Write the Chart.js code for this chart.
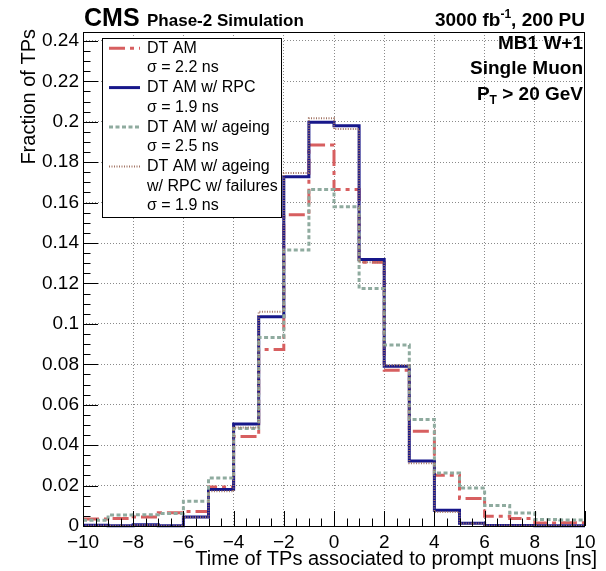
<!DOCTYPE html>
<html>
<head>
<meta charset="utf-8">
<script src="https://cdn.jsdelivr.net/npm/chart.js@4.4.1/dist/chart.umd.min.js"></script>
<style>
  html, body { margin: 0; padding: 0; background: #ffffff; }
  #wrap { width: 606px; height: 571px; position: relative; }
</style>
</head>
<body>
<div id="wrap"><canvas id="c" width="606" height="571"></canvas></div>
<script>
// ---------------- DATA ----------------
const binLowEdges = [-10, -9, -8, -7, -6, -5, -4, -3, -2, -1, 0, 1, 2, 3, 4, 5, 6, 7, 8, 9];
const xUpperEdge = 10;

const dtAM = [0.0035, 0.0037, 0.0045, 0.0065, 0.0072, 0.0193, 0.0443, 0.0873, 0.154, 0.1885,
              0.1665, 0.1305, 0.077, 0.0469, 0.0251, 0.0136, 0.0048, 0.0037, 0.0015, 0.0016];
const dtAMwRPC = [0.0004, 0.0001, 0.0006, 0.0001, 0.0045, 0.018, 0.0505, 0.1035, 0.1728, 0.1997,
                  0.198, 0.1318, 0.079, 0.0322, 0.0078, 0.0014, 0.0003, 0.0002, 0.0001, 0.0001];
const dtAMageing = [0.0028, 0.0055, 0.0056, 0.0062, 0.0123, 0.0237, 0.0482, 0.0933, 0.1365, 0.1665,
                    0.158, 0.1175, 0.0895, 0.0527, 0.0262, 0.0188, 0.0101, 0.0064, 0.0032, 0.003];
const dtAMageingRPCfail = [0.0003, 0.0001, 0.0005, 0.0001, 0.0043, 0.0172, 0.0487, 0.106, 0.1747, 0.2017,
                           0.1964, 0.1305, 0.0795, 0.031, 0.0069, 0.0012, 0.0003, 0.0002, 0.0001, 0.0001];

const seriesLegendLines = [
  ["DT AM", "σ = 2.2 ns"],
  ["DT AM w/ RPC", "σ = 1.9 ns"],
  ["DT AM w/ ageing", "σ = 2.5 ns"],
  ["DT AM w/ ageing", "w/ RPC w/ failures", "σ = 1.9 ns"]
];

const xTickValues = [-10, -8, -6, -4, -2, 0, 2, 4, 6, 8, 10];
const xTickLabels = ["\u221210", "\u22128", "\u22126", "\u22124", "\u22122", "0", "2", "4", "6", "8", "10"];
const yTickValues = [0, 0.02, 0.04, 0.06, 0.08, 0.1, 0.12, 0.14, 0.16, 0.18, 0.2, 0.22, 0.24];
const yTickLabels = ["0", "0.02", "0.04", "0.06", "0.08", "0.1", "0.12", "0.14", "0.16", "0.18", "0.2", "0.22", "0.24"];

const xAxisTitle = "Time of TPs associated to prompt muons [ns]";
const yAxisTitle = "Fraction of TPs";

// ---------------- HELPERS ----------------
function histPoints(values) {
  const pts = binLowEdges.map((e, i) => ({ x: e, y: values[i] }));
  pts.push({ x: xUpperEdge, y: values[values.length - 1] });
  return pts;
}

const FONT = '"Liberation Sans", Arial, Helvetica, sans-serif';

const datasets = [
  { label: seriesLegendLines[0].join(' '), data: histPoints(dtAM), borderColor: '#d75f60',
    borderWidth: 3, borderDash: [16, 5, 4, 5], order: 3 },
  { label: seriesLegendLines[1].join(' '), data: histPoints(dtAMwRPC), borderColor: '#17178a',
    borderWidth: 3, borderDash: [], order: 2 },
  { label: seriesLegendLines[2].join(' '), data: histPoints(dtAMageing), borderColor: '#8fab9f',
    borderWidth: 3, borderDash: [4, 2.5], order: 1 },
  { label: seriesLegendLines[3].join(' '), data: histPoints(dtAMageingRPCfail), borderColor: '#a27464',
    borderWidth: 2, borderDash: [1, 1.5], order: 0 }
].map(d => Object.assign(d, { stepped: 'before', fill: false, pointRadius: 0, clip: 4, tension: 0 }));

const decorPlugin = {
  id: 'decor',
  afterDatasetsDraw(chart) {
    const ctx = chart.ctx;
    const { left, right, top, bottom } = chart.chartArea;
    const xs = chart.scales.x, ys = chart.scales.y;
    ctx.save();
    ctx.setLineDash([]);
    ctx.strokeStyle = '#000';
    ctx.lineWidth = 1;

    // ticks (inside frame, ROOT style)
    ctx.beginPath();
    for (let v = 0; v <= ys.max + 1e-9; v += 0.005) {
      const y = Math.round(ys.getPixelForValue(v)) + 0.5;
      const major = Math.abs(v / 0.02 - Math.round(v / 0.02)) < 1e-6;
      const len = major ? 15 : 7.5;
      ctx.moveTo(left, y); ctx.lineTo(left + len, y);
    }
    for (let v = xs.min; v <= xs.max + 1e-9; v += 0.5) {
      const x = Math.round(xs.getPixelForValue(v)) + 0.5;
      const major = Math.abs(v / 2 - Math.round(v / 2)) < 1e-6;
      const len = major ? 15 : 7.5;
      ctx.moveTo(x, bottom); ctx.lineTo(x, bottom - len);
    }
    ctx.stroke();

    // frame
    ctx.strokeRect(left + 0.5, top + 0.5, right - left - 1, bottom - top);

    // legend box
    const lx = 102, ly = 38, lw = 179, lh = 179;
    ctx.fillStyle = '#fff';
    ctx.fillRect(lx, ly, lw, lh);
    ctx.strokeRect(lx + 0.5, ly + 0.5, lw, lh);

    ctx.font = '16px ' + FONT;
    ctx.fillStyle = '#000';
    ctx.textAlign = 'left';
    ctx.textBaseline = 'alphabetic';
    let row = 0;
    const rowH = 19.7, base0 = 52.7;
    seriesLegendLines.forEach((lines, si) => {
      const ds = chart.data.datasets[si];
      const by = base0 + row * rowH;
      ctx.save();
      ctx.strokeStyle = ds.borderColor;
      ctx.lineWidth = ds.borderWidth;
      ctx.setLineDash(ds.borderDash || []);
      ctx.beginPath();
      ctx.moveTo(109, by - 4.5);
      ctx.lineTo(140, by - 4.5);
      ctx.stroke();
      ctx.restore();
      lines.forEach(t => {
        ctx.fillText(t, 147, base0 + row * rowH);
        row++;
      });
    });

    // header texts
    ctx.fillStyle = '#000';
    ctx.textAlign = 'left';
    ctx.font = 'bold 25px ' + FONT;
    ctx.fillText('CMS', 84, 25.5);
    ctx.font = 'bold 17px ' + FONT;
    ctx.fillText('Phase-2 Simulation', 147, 25.7);

    // right header: 3000 fb^-1, 200 PU
    const rightEdge = 585;
    const big = 'bold 19px ' + FONT, small = 'bold 12px ' + FONT;
    ctx.font = big; const w1 = ctx.measureText('3000 fb').width;
    ctx.font = small; const w2 = ctx.measureText('-1').width;
    ctx.font = big; const w3 = ctx.measureText(', 200 PU').width;
    let x0 = rightEdge - (w1 + w2 + w3);
    ctx.font = big; ctx.fillText('3000 fb', x0, 26);
    ctx.font = small; ctx.fillText('-1', x0 + w1, 18);
    ctx.font = big; ctx.fillText(', 200 PU', x0 + w1 + w2, 26);

    // inner texts
    const innerRight = 583;
    ctx.font = big;
    ctx.textAlign = 'right';
    ctx.fillText('MB1 W+1', innerRight, 48.5);
    ctx.fillText('Single Muon', innerRight, 74);
    ctx.textAlign = 'left';
    ctx.font = big; const p1 = ctx.measureText('P').width;
    ctx.font = small; const p2 = ctx.measureText('T').width;
    ctx.font = big; const p3 = ctx.measureText(' > 20 GeV').width;
    x0 = innerRight - (p1 + p2 + p3);
    ctx.font = big; ctx.fillText('P', x0, 99.5);
    ctx.font = small; ctx.fillText('T', x0 + p1, 104);
    ctx.font = big; ctx.fillText(' > 20 GeV', x0 + p1 + p2, 99.5);

    // axis titles
    ctx.font = '20px ' + FONT;
    ctx.textAlign = 'right';
    ctx.fillText(xAxisTitle, 597, 565);
    ctx.save();
    ctx.translate(35, 29);
    ctx.rotate(-Math.PI / 2);
    ctx.textAlign = 'right';
    ctx.fillText(yAxisTitle, 0, 0);
    ctx.restore();

    ctx.restore();
  }
};

new Chart(document.getElementById('c'), {
  type: 'line',
  data: { datasets },
  options: {
    responsive: false,
    animation: false,
    devicePixelRatio: 1,
    layout: { padding: { left: 0, top: 32, right: 21, bottom: 0 } },
    plugins: { legend: { display: false }, tooltip: { enabled: false } },
    elements: { point: { radius: 0 } },
    scales: {
      x: {
        type: 'linear', min: -10, max: 10,
        afterBuildTicks: s => { s.ticks = xTickValues.map(v => ({ value: v })); },
        afterFit: s => { s.height = 45; },
        ticks: {
          autoSkip: false, maxRotation: 0, padding: 5, color: '#000',
          font: { family: FONT, size: 19 },
          callback: (v, i) => xTickLabels[i]
        },
        grid: {
          drawTicks: false, tickLength: 0, lineWidth: 1,
          color: c => (c.tick && (c.tick.value === -10 || c.tick.value === 10)) ? 'rgba(0,0,0,0)' : '#8a8a8a'
        },
        border: { display: false, dash: [1, 2] }
      },
      y: {
        type: 'linear', min: 0, max: 0.2444,
        afterBuildTicks: s => { s.ticks = yTickValues.map(v => ({ value: v })); },
        afterFit: s => { s.width = 83; },
        ticks: {
          autoSkip: false, padding: 4, color: '#000',
          font: { family: FONT, size: 19 },
          callback: (v, i) => yTickLabels[i]
        },
        grid: {
          drawTicks: false, tickLength: 0, lineWidth: 1,
          color: c => (c.tick && c.tick.value === 0) ? 'rgba(0,0,0,0)' : '#8a8a8a'
        },
        border: { display: false, dash: [1, 2] }
      }
    }
  },
  plugins: [decorPlugin]
});
</script>
</body>
</html>
